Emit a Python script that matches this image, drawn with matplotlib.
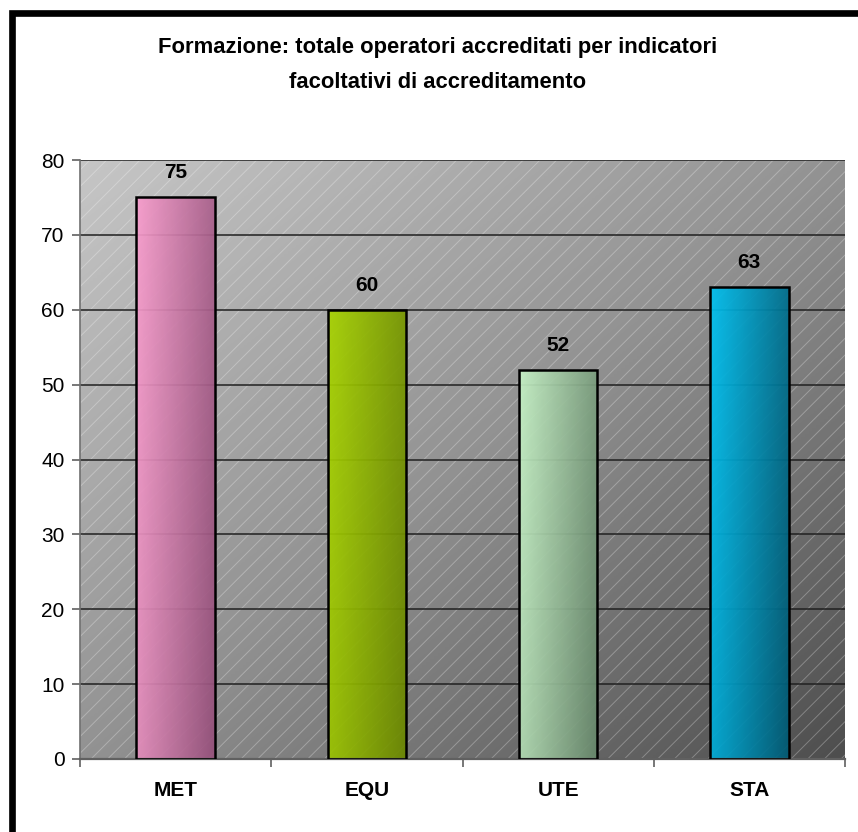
import numpy as np
import matplotlib
matplotlib.use("Agg")
import matplotlib.pyplot as plt
from matplotlib.patches import Rectangle
from matplotlib.colors import LinearSegmentedColormap

categories = ["MET", "EQU", "UTE", "STA"]
values = [75, 60, 52, 63]
yticks = [0, 10, 20, 30, 40, 50, 60, 70, 80]
title = "Formazione: totale operatori accreditati per indicatori\nfacoltativi di accreditamento"
bar_light = ["#f99dcd", "#a8d400", "#c6f2c6", "#00c2f2"]
bar_dark = ["#94507a", "#6a8600", "#66866a", "#005a74"]

plt.rcParams['font.family'] = ['Liberation Sans', 'DejaVu Sans']

fig = plt.figure(figsize=(8.58, 8.32), dpi=100)
ax = fig.add_axes([80/858, 1-759/832, 765/858, 599/832])

# background gradient (light top-left, dark bottom-right)
gx, gy = np.meshgrid(np.linspace(0, 1, 200), np.linspace(0, 1, 200))
g = (gx + gy) / 2
bg_cmap = LinearSegmentedColormap.from_list("bg", ["#c6c6c6", "#929292", "#4e4e4e"])
ax.imshow(g, cmap=bg_cmap, extent=[0, 1, 0, 1], transform=ax.transAxes,
          aspect='auto', zorder=0, interpolation='bilinear', origin='upper')
plt.rcParams['hatch.color'] = (1, 1, 1, 0.28)
plt.rcParams['hatch.linewidth'] = 0.7
ax.add_patch(Rectangle((0, 0), 1, 1, transform=ax.transAxes, facecolor='none',
                       edgecolor=(1, 1, 1, 0.28), hatch='//', linewidth=0, zorder=0.5))

x = np.arange(len(categories))
bars = ax.bar(x, values, width=0.41, facecolor='none', edgecolor='black',
              linewidth=1.8, zorder=3)
for b, c1, c2, v in zip(bars, bar_light, bar_dark, values):
    cm = LinearSegmentedColormap.from_list("b", [c1, c2])
    hx, hy = np.meshgrid(np.linspace(0, 1, 100), np.linspace(0, 1, 100))
    gg = 0.8 * hx + 0.2 * hy
    im = ax.imshow(gg, cmap=cm, extent=[b.get_x(), b.get_x() + b.get_width(), 0, v],
                   aspect='auto', zorder=2, interpolation='bilinear', alpha=0.93,
                   origin='upper')
    im.set_clip_path(b)
    ax.text(b.get_x() + b.get_width() / 2, v + 2.0, str(v), ha='center', va='bottom',
            fontsize=15, fontweight='bold', zorder=4)

ax.set_xlim(-0.5, len(categories) - 0.5)
ax.set_ylim(0, 80)
ax.set_yticks(yticks)
ax.set_yticklabels([str(t) for t in yticks], fontsize=15)
ax.yaxis.grid(True, color='#202020', linewidth=1.1, zorder=1)
ax.set_axisbelow(True)
ax.set_xticks(x)
ax.set_xticklabels(categories, fontsize=15, fontweight='bold')
ax.tick_params(axis='x', length=0, pad=16)
ax.set_xticks(np.arange(len(categories) + 1) - 0.5, minor=True)
ax.tick_params(axis='x', which='minor', length=6, color='#606060', width=1.2)
ax.tick_params(axis='y', length=6, color='#606060', width=1.2, pad=5)
for s in ['top', 'right']:
    ax.spines[s].set_visible(False)
ax.spines['left'].set_color('#707070')
ax.spines['bottom'].set_color('#606060')
ax.spines['left'].set_linewidth(1.2)
ax.spines['bottom'].set_linewidth(1.6)

fig.text(438/858, 1-65/832, title, ha='center', va='center', fontsize=15.8,
         fontweight='bold', linespacing=1.85)

top = 1 - 12.5/832
fig.add_artist(Rectangle((11.5/858, -0.1), 1.2, top + 0.1,
                         transform=fig.transFigure, facecolor='none',
                         edgecolor='black', linewidth=4.8, clip_on=False))

fig.savefig("out.png", dpi=100)
